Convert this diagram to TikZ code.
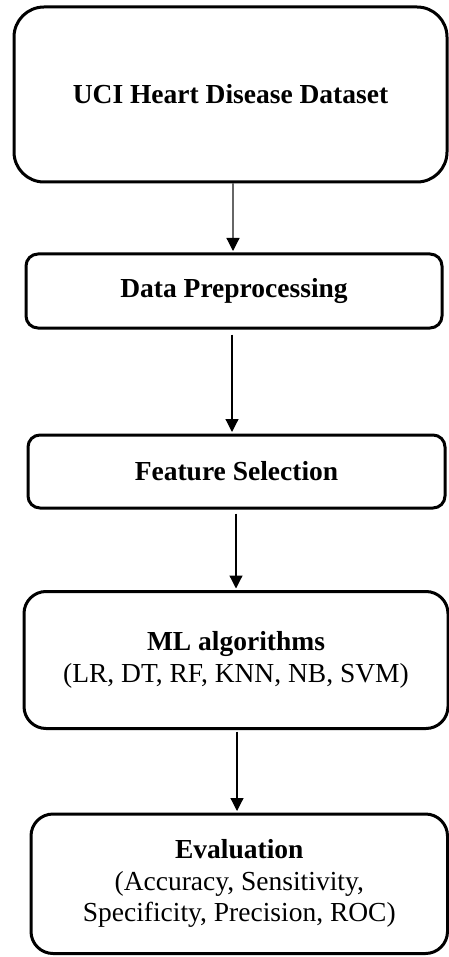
\documentclass[tikz,border=0pt]{standalone}
\usepackage{fontspec}
\setmainfont{Liberation Serif}
\usetikzlibrary{arrows.meta}
\tikzset{
  box/.style={draw=black, line width=3pt, rectangle, inner sep=0pt, align=center,
    font=\fontsize{27.5}{31.5}\selectfont},
  flow/.style={line width=1.2pt, -{Triangle[width=13pt,length=13pt,color=black]}, shorten >=1.5pt},
}
\begin{document}
\begin{tikzpicture}[x=1pt,y=-1pt]
\useasboundingbox (0,0) rectangle (449,957);
\node[box, rounded corners=30pt, minimum width=433pt, minimum height=175pt] (b1) at (230.5,94.5) {\bfseries UCI Heart Disease Dataset};
\node[box, rounded corners=12pt, minimum width=416pt, minimum height=74pt] (b2) at (234,291) {\bfseries Data Preprocessing};
\node[box, rounded corners=12pt, minimum width=417pt, minimum height=73pt] (b3) at (236.5,471.5) {\bfseries Feature Selection};
\node[box, rounded corners=22pt, minimum width=424pt, minimum height=137pt] (b4) at (236,660) {\textbf{ML algorithms}\\(LR, DT, RF, KNN, NB, SVM)};
\node[box, rounded corners=22pt, minimum width=416.5pt, minimum height=139.5pt] (b5) at (239.25,883.75) {\textbf{Evaluation}\\(Accuracy, Sensitivity,\\Specificity, Precision, ROC)};
\draw[flow, draw=black!60] ([xshift=2.5pt]b1.south) -- ([xshift=-1pt]b2.north);
\draw[flow, shorten <=5pt] ([xshift=-2pt]b2.south) -- ([xshift=-4.5pt]b3.north);
\draw[flow, shorten <=4pt] ([xshift=-0.5pt]b3.south) -- ([xshift=0pt]b4.north);
\draw[flow, shorten <=1.5pt] ([xshift=1pt]b4.south) -- ([xshift=-2.25pt]b5.north);
\end{tikzpicture}
\end{document}
